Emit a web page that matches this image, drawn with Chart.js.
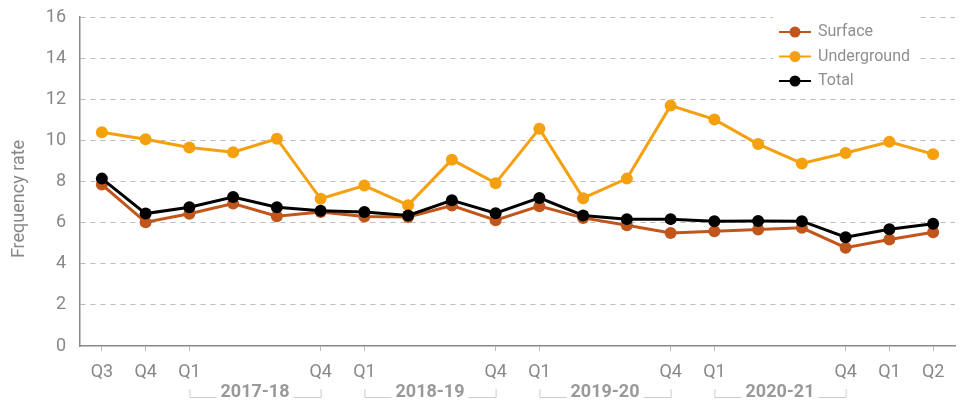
<!DOCTYPE html>
<html>
<head>
<meta charset="utf-8">
<script src="https://cdn.jsdelivr.net/npm/chart.js@4.4.1/dist/chart.umd.min.js"></script>
<style>
  html, body { margin: 0; padding: 0; background: #fff; }
  #wrap { width: 962px; height: 403px; position: relative; }
</style>
</head>
<body>
<div id="wrap"><canvas id="c" width="962" height="403"></canvas></div>
<script>
const labels = ['Q3','Q4','Q1','','','Q4','Q1','','','Q4','Q1','','','Q4','Q1','','','Q4','Q1','Q2'];
const surface = [7.85, 6.02, 6.43, 6.93, 6.31, 6.52, 6.3, 6.27, 6.83, 6.12, 6.8, 6.23, 5.87, 5.5, 5.58, 5.66, 5.75, 4.78, 5.18, 5.53];
const underground = [10.4, 10.05, 9.65, 9.42, 10.08, 7.16, 7.8, 6.85, 9.06, 7.92, 10.57, 7.19, 8.14, 11.69, 11.02, 9.82, 8.88, 9.39, 9.93, 9.33];
const total = [8.14, 6.44, 6.75, 7.25, 6.75, 6.58, 6.52, 6.35, 7.09, 6.46, 7.2, 6.35, 6.17, 6.17, 6.07, 6.08, 6.07, 5.29, 5.68, 5.95];
const yTicks = [0, 2, 4, 6, 8, 10, 12, 14, 16];
const groups = [
  { label: '2017-18', from: 2, to: 5 },
  { label: '2018-19', from: 6, to: 9 },
  { label: '2019-20', from: 10, to: 13 },
  { label: '2020-21', from: 14, to: 17 }
];
const seriesNames = ['Surface', 'Underground', 'Total'];
const seriesColors = ['#C0561C', '#F5A00F', '#000000'];
const yTitle = 'Frequency rate';

const FONT = 'Roboto, "Open Sans", sans-serif';
const GREY = '#888888';

const groupPlugin = {
  id: 'groups',
  afterDraw(chart) {
    const ctx = chart.ctx;
    const x = chart.scales.x;
    ctx.save();
    ctx.font = 'bold 18px ' + FONT;
    ctx.textAlign = 'center';
    ctx.textBaseline = 'middle';
    const yLine = 397, yTop = 389, yText = 392;
    groups.forEach(g => {
      const x1 = x.getPixelForValue(g.from);
      const x2 = x.getPixelForValue(g.to);
      const cx = (x1 + x2) / 2;
      const tw = ctx.measureText(g.label).width;
      ctx.strokeStyle = '#cccccc';
      ctx.lineWidth = 1;
      ctx.beginPath();
      ctx.moveTo(x1 + 0.5, yTop);
      ctx.lineTo(x1 + 0.5, yLine + 0.5);
      ctx.lineTo(cx - tw / 2 - 4, yLine + 0.5);
      ctx.moveTo(cx + tw / 2 + 4, yLine + 0.5);
      ctx.lineTo(x2 + 0.5, yLine + 0.5);
      ctx.lineTo(x2 + 0.5, yTop);
      ctx.stroke();
      ctx.fillStyle = '#999999';
      ctx.fillText(g.label, cx, yText);
    });
    // y axis title
    ctx.font = '18px ' + FONT;
    ctx.fillStyle = GREY;
    ctx.translate(19, 199);
    ctx.rotate(-Math.PI / 2);
    ctx.textAlign = 'center';
    ctx.textBaseline = 'middle';
    ctx.fillText(yTitle, 0, 0);
    ctx.restore();
  }
};

const legendPlugin = {
  id: 'customLegend',
  beforeDatasetsDraw(chart) {
    const ctx = chart.ctx;
    ctx.save();
    ctx.fillStyle = '#ffffff';
    ctx.fillRect(773, 8, 146, 86);
    ctx.restore();
  },
  afterDraw(chart) {
    const ctx = chart.ctx;
    ctx.save();
    ctx.font = '16px ' + FONT;
    ctx.textBaseline = 'middle';
    ctx.textAlign = 'left';
    const rows = [32, 56.5, 81];
    chart.data.datasets.forEach((ds, i) => {
      const y = rows[i];
      ctx.strokeStyle = ds.borderColor;
      ctx.lineWidth = 2;
      ctx.beginPath();
      ctx.moveTo(779, y);
      ctx.lineTo(811, y);
      ctx.stroke();
      ctx.fillStyle = ds.borderColor;
      ctx.beginPath();
      ctx.arc(795, y, 5.5, 0, Math.PI * 2);
      ctx.fill();
      ctx.fillStyle = '#8f8f8f';
      ctx.fillText(ds.label, 818, y);
    });
    ctx.restore();
  }
};

new Chart(document.getElementById('c'), {
  type: 'line',
  data: {
    labels: labels,
    datasets: [surface, underground, total].map((d, i) => ({
      label: seriesNames[i],
      data: d,
      borderColor: seriesColors[i],
      backgroundColor: seriesColors[i],
      borderWidth: 3,
      pointRadius: 6,
      pointHoverRadius: 6,
      pointBorderWidth: 0,
      tension: 0,
      order: [2, 1, 0][i]
    }))
  },
  options: {
    responsive: false,
    animation: false,
    layout: { padding: { top: 17, right: 7, left: 0, bottom: 0 } },
    plugins: { legend: { display: false }, tooltip: { enabled: false } },
    scales: {
      x: {
        offset: true,
        grid: {
          drawOnChartArea: false,
          drawTicks: true,
          tickLength: 5,
          tickColor: (c) => labels[c.index] ? '#bbbbbb' : 'rgba(0,0,0,0)',
          offset: false
        },
        border: { color: '#888888', width: 1.5 },
        ticks: {
          autoSkip: false,
          maxRotation: 0,
          color: GREY,
          font: { family: FONT, size: 18 },
          padding: 11
        },
        afterFit(s) { s.height = 57; s.paddingLeft = 0; s.paddingRight = 0; }
      },
      y: {
        min: 0,
        max: 16,
        afterBuildTicks(s) { s.ticks = yTicks.map(v => ({ value: v })); },
        grid: {
          drawTicks: false,
          color: (c) => c.tick.value === 0 ? 'rgba(0,0,0,0)' : '#bbbbbb',
          lineWidth: 1
        },
        border: { color: '#888888', width: 1.5, dash: [5, 5] },
        ticks: {
          color: GREY,
          font: { family: FONT, size: 18 },
          padding: 14
        },
        title: { display: false },
        afterFit(s) { s.width = 80; s.paddingTop = 0; s.paddingBottom = 0; }
      }
    }
  },
  plugins: [groupPlugin, legendPlugin]
});
</script>
</body>
</html>
